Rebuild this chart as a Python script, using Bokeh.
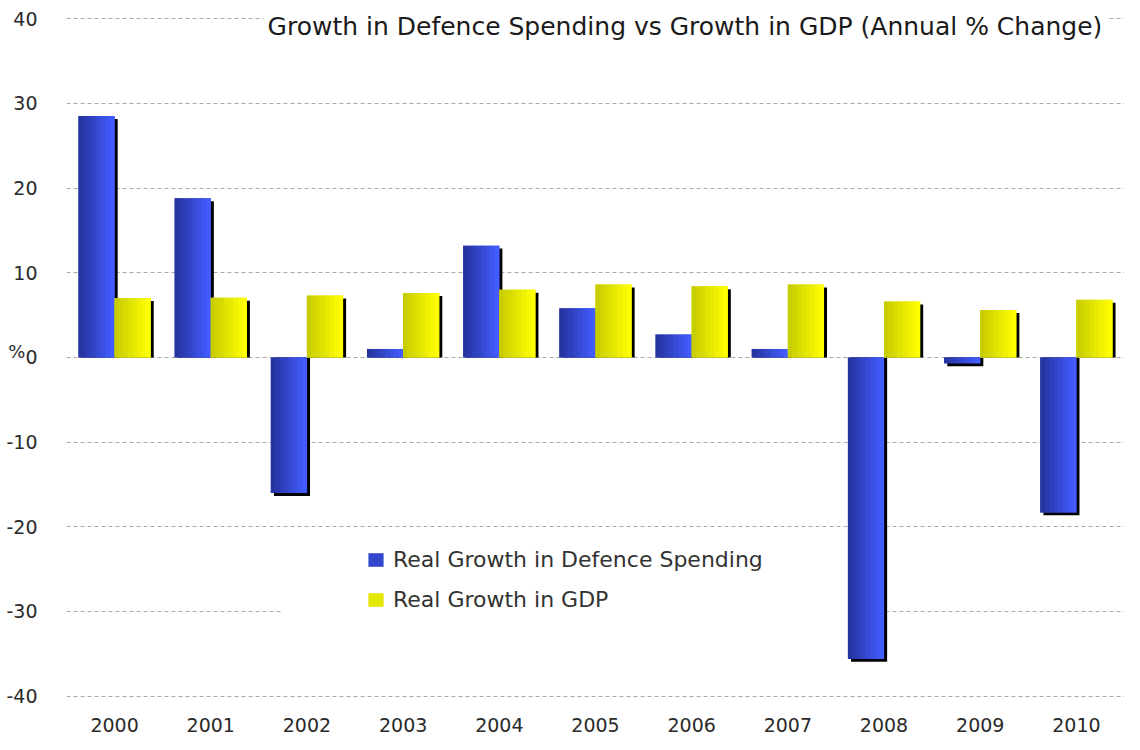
from bokeh.plotting import figure
from bokeh.models import (Range1d, FactorRange, FixedTicker, Label, BoxAnnotation,
                          Legend, LegendItem, ColumnDataSource)
from bokeh.transform import dodge
from bokeh.embed import file_html
from bokeh.resources import INLINE

# ---------------- data ----------------
years = ["2000", "2001", "2002", "2003", "2004", "2005",
         "2006", "2007", "2008", "2009", "2010"]
defence_growth = [28.5, 18.8, -16.0, 1.0, 13.2, 5.8, 2.7, 1.0, -35.6, -0.7, -18.3]
gdp_growth = [7.0, 7.05, 7.3, 7.6, 8.0, 8.6, 8.4, 8.6, 6.6, 5.6, 6.8]
y_ticks = [-40, -30, -20, -10, 0, 10, 20, 30, 40]
y_tick_labels = ["-40", "-30", "-20", "-10", "0", "10", "20", "30", "40"]
series_names = ["Real Growth in Defence Spending", "Real Growth in GDP"]
chart_title = "Growth in Defence Spending vs Growth in GDP (Annual % Change)"
y_title = "%"

# ---------------- styling ----------------
FONT = "DejaVu Sans"
BAR_W = 0.375
OFFSETS = [-0.1875, 0.1875]
GRADIENTS = [((38, 52, 160), (66, 92, 255)), ((200, 205, 0), (255, 255, 0))]
SHADOW_DX = 0.032
SHADOW_DY = 0.35
N_STRIPS = 8

p = figure(width=1124, height=734, x_range=FactorRange(*years, range_padding=0),
           y_range=Range1d(-40.75, 42.15), output_backend="svg", toolbar_location=None,
           min_border_left=66, min_border_right=0, min_border_top=0, min_border_bottom=29,
           background_fill_color="white", border_fill_color="white")
p.outline_line_color = None
p.xgrid.grid_line_color = None
p.ygrid.grid_line_color = "#a8a8a8"
p.ygrid.grid_line_dash = "4 3"
p.ygrid.grid_line_width = 1
p.yaxis.ticker = FixedTicker(ticks=y_ticks)
p.yaxis.major_label_overrides = dict(zip(y_ticks, y_tick_labels))

for ax in (p.xaxis[0], p.yaxis[0]):
    ax.axis_line_color = None
    ax.major_tick_line_color = None
    ax.minor_tick_line_color = None
    ax.major_label_text_font = FONT
    ax.major_label_text_font_size = "19px"
    ax.major_label_text_color = "#2a2a2a"
p.xaxis.major_label_standoff = 9
p.yaxis.major_label_standoff = 23
p.yaxis.axis_label = y_title
p.yaxis.axis_label_orientation = "horizontal"
p.yaxis.axis_label_standoff = -22
p.yaxis.axis_label_text_font = FONT
p.yaxis.axis_label_text_font_style = "normal"
p.yaxis.axis_label_text_font_size = "18px"
p.yaxis.axis_label_text_color = "#2a2a2a"

# white patch behind the legend (hides gridline there, as in the original)
p.add_layout(BoxAnnotation(left=2.25, right=8.15, top=-21.5, bottom=-38.5,
                           fill_color="white", fill_alpha=1.0, line_color=None,
                           level="underlay"))

source = ColumnDataSource(dict(
    year=years,
    defence=defence_growth,
    gdp=gdp_growth,
    defence_shadow=[v - SHADOW_DY for v in defence_growth],
    gdp_shadow=[v - SHADOW_DY for v in gdp_growth],
))


def mix(c0, c1, t):
    return "#%02x%02x%02x" % tuple(int(round(a + (b - a) * t)) for a, b in zip(c0, c1))


legend_items = []
for (col, off, (c0, c1), name) in zip(["defence", "gdp"], OFFSETS, GRADIENTS, series_names):
    # drop shadow
    p.vbar(x=dodge("year", off + SHADOW_DX, range=p.x_range), top=col + "_shadow", bottom=0,
           width=BAR_W, source=source, fill_color="black", line_color=None)
    # base bar
    base = p.vbar(x=dodge("year", off, range=p.x_range), top=col, bottom=0, width=BAR_W,
                  source=source, fill_color=mix(c0, c1, 0.5), line_color=None)
    legend_items.append(LegendItem(label=name, renderers=[base]))
    # horizontal gradient strips
    sw = BAR_W / N_STRIPS
    for k in range(N_STRIPS):
        t = k / (N_STRIPS - 1)
        xo = off - BAR_W / 2 + sw * (k + 0.5)
        p.vbar(x=dodge("year", xo, range=p.x_range), top=col, bottom=0, width=sw * 1.05,
               source=source, fill_color=mix(c0, c1, t), line_color=None)

legend = Legend(items=legend_items, location=(300, 90), padding=0, margin=0,
                border_line_color=None, background_fill_alpha=0,
                glyph_width=19, glyph_height=17, label_standoff=8, spacing=15,
                label_height=22, label_text_font=FONT, label_text_font_size="22px",
                label_text_color="#333333")
p.add_layout(legend)

p.add_layout(Label(x=6.43, y=39.1, text=chart_title, text_align="center",
                   text_baseline="middle", text_font=FONT, text_font_size="25px",
                   text_color="#1a1a1a", background_fill_color="white",
                   background_fill_alpha=1.0, padding=4))

open("out.html", "w").write(file_html(p, INLINE))
